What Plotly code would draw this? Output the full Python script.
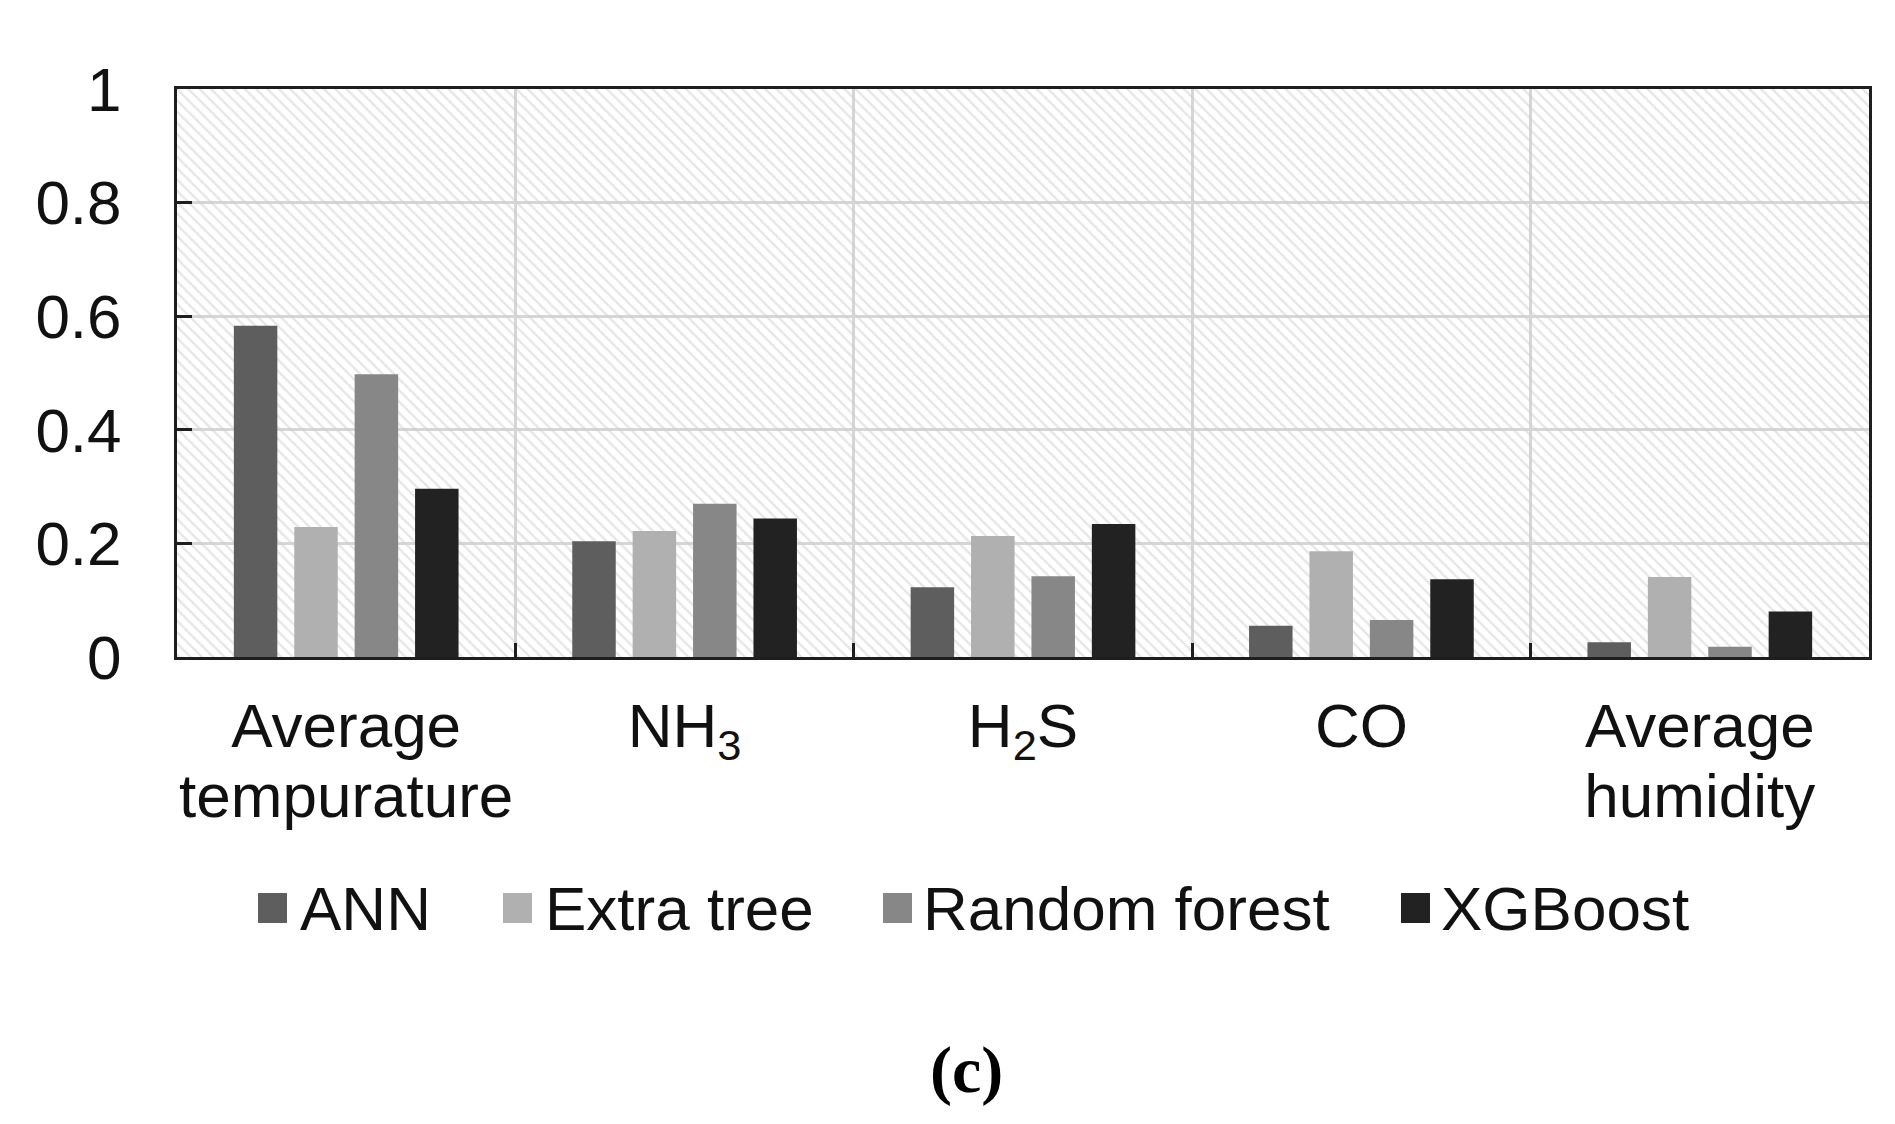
import plotly.graph_objects as go

# ---------------- data ----------------
categories = ["Average<br>tempurature", "NH<sub>3</sub>", "H<sub>2</sub>S", "CO", "Average<br>humidity"]
series_names = ["ANN", "Extra tree", "Random forest", "XGBoost"]
ann = [0.583, 0.204, 0.123, 0.055, 0.026]
extra_tree = [0.229, 0.222, 0.213, 0.186, 0.141]
random_forest = [0.498, 0.270, 0.142, 0.065, 0.018]
xgboost = [0.296, 0.244, 0.234, 0.137, 0.080]
y_tick_vals = [0, 0.2, 0.4, 0.6, 0.8, 1]
y_tick_text = ["0", "0.2", "0.4", "0.6", "0.8", "1"]
caption = "(c)"

series_values = [ann, extra_tree, random_forest, xgboost]
colors = ["#5e5e5e", "#b0b0b0", "#878787", "#222222"]

# ---------------- layout geometry ----------------
W, H = 1895, 1124
ML, MR, MT, MB = 169, 34, 81, 475
PW = W - ML - MR
PH = H - MT - MB
FONT = "Liberation Sans, Arial, sans-serif"
FS = 62
X_LINE_FS = 54  # controls line spacing of the two-line category labels


def px_x(p):
    return (p - ML) / PW


def px_y(p):
    return (H - MB - p) / PH


# category tick labels: text drawn at FS while line spacing follows X_LINE_FS
x_tick_text = ["<br>".join('<span style="font-size:%dpx">%s</span>' % (FS, part)
                           for part in c.split("<br>")) for c in categories]

fig = go.Figure()

# hatched plot background (drawn first, beneath the bars)
fig.add_trace(go.Bar(
    x=[categories[0]], y=[y_tick_vals[-1]], width=[len(categories)], offset=-0.5,
    marker=dict(color="rgba(0,0,0,0)", line=dict(width=0),
                pattern=dict(shape="\\", fgcolor="#cdcdcd", bgcolor="rgba(0,0,0,0)",
                             size=8, solidity=0.3)),
    hoverinfo="skip", showlegend=False,
))

for name, vals, col in zip(series_names, series_values, colors):
    fig.add_trace(go.Bar(
        name=name, x=categories, y=vals,
        marker=dict(color=col, line=dict(width=0)),
        showlegend=False,
    ))

# manual legend (large square keys like the reference)
legend_key_x = [250, 495, 875, 1393]
legend_text_x = [290, 535, 913, 1431]
legend_y = 900
shapes = []
annotations = []
for name, col, kx, tx in zip(series_names, colors, legend_key_x, legend_text_x):
    shapes.append(dict(type="rect", xref="paper", yref="paper",
                       x0=px_x(kx), x1=px_x(kx + 29),
                       y0=px_y(legend_y + 15), y1=px_y(legend_y - 15),
                       fillcolor=col, line=dict(width=0)))
    annotations.append(dict(text=name, xref="paper", yref="paper",
                            x=px_x(tx), y=px_y(legend_y), xanchor="left", yanchor="middle",
                            showarrow=False, font=dict(family=FONT, size=FS, color="#111111")))

annotations.append(dict(text="<b>" + caption + "</b>", xref="paper", yref="paper",
                        x=px_x(958), y=px_y(1062), xanchor="center", yanchor="middle",
                        showarrow=False,
                        font=dict(family="Liberation Serif, Times New Roman, serif", size=66,
                                  color="#000000")))

fig.update_layout(
    width=W, height=H, autosize=False,
    margin=dict(l=ML, r=MR, t=MT, b=MB, pad=0),
    paper_bgcolor="white", plot_bgcolor="white",
    barmode="group", bargap=0.286, bargroupgap=0.28,
    showlegend=False,
    font=dict(family=FONT, size=FS, color="#111111"),
    shapes=shapes, annotations=annotations,
)

fig.update_xaxes(
    type="category", tickson="boundaries", tickangle=0, automargin=False,
    tickmode="array", tickvals=categories, ticktext=x_tick_text,
    showline=True, linecolor="#1e1e1e", linewidth=3, mirror=True,
    ticks="inside", ticklen=14, tickwidth=3, tickcolor="#1e1e1e",
    showgrid=True, gridcolor="#d6d6d6", gridwidth=3,
    tickfont=dict(family=FONT, size=X_LINE_FS, color="#111111"),
    ticklabelstandoff=22,
)
fig.update_yaxes(
    range=[0, 1], tickvals=y_tick_vals, ticktext=y_tick_text, automargin=False,
    showline=True, linecolor="#1e1e1e", linewidth=3, mirror=True,
    ticks="inside", ticklen=15, tickwidth=3, tickcolor="#1e1e1e",
    showgrid=True, gridcolor="#d6d6d6", gridwidth=3, zeroline=False,
    tickfont=dict(family=FONT, size=FS, color="#111111"),
    ticklabelstandoff=40,
)

fig.write_html("out.html")
